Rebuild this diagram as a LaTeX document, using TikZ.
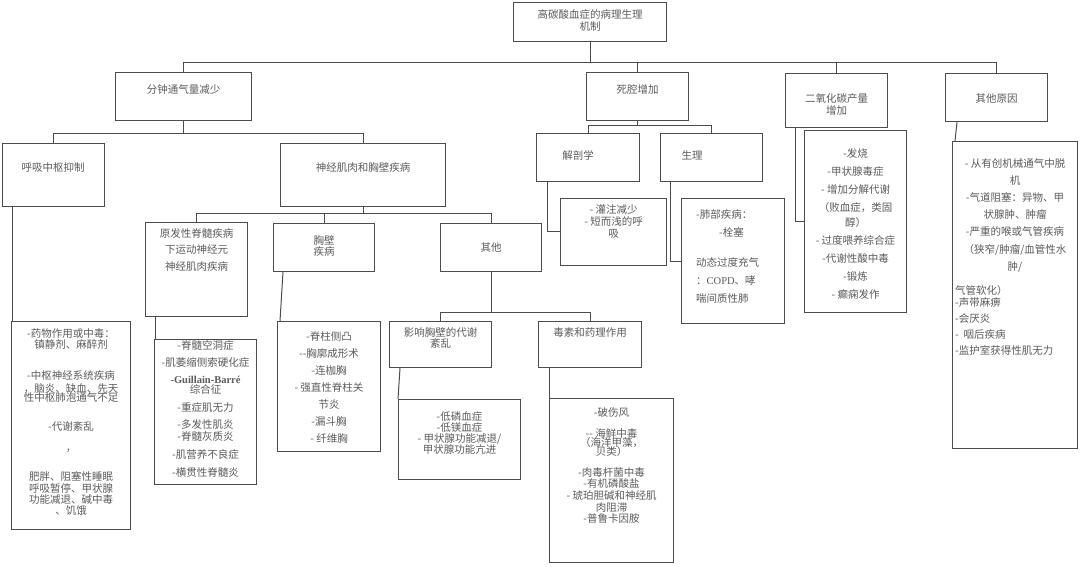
\documentclass[tikz,border=0pt]{standalone}
\usepackage{fontspec}
\setmainfont{Noto Sans CJK SC}
\newfontfamily\latinfont{Liberation Serif}
\usetikzlibrary{positioning,calc}
\definecolor{linegray}{gray}{0.3}
\definecolor{textgray}{gray}{0.36}

\begin{document}
\begin{tikzpicture}[
    x=1pt, y=-1pt,
    every node/.style={font={\fontsize{10.5}{11}\selectfont\lineskiplimit=-20pt}},
    lst/.style={font={\fontsize{10.5}{#1}\selectfont\lineskiplimit=-20pt}},
    box/.style={draw=linegray, line width=1pt, anchor=north west,
                inner sep=0pt},
    txt/.style={text=textgray, align=center, inner sep=0pt, anchor=north},
    link/.style={draw=linegray, line width=1pt},
]
\useasboundingbox[fill=white] (0,0) rectangle (1080,567);

% --- Root ---
\node[box, minimum width=153pt, minimum height=39pt] (root) at (513,2) {};
\node[txt, lst=12] (roott) at ([yshift=-7pt]root.north)
    {高碳酸血症的病理生理\\机制};

% --- Level 1 ---
\node[box, minimum width=136pt, minimum height=48pt] (fen) at (115,72) {};
\node[txt] (fent) at ([yshift=-12pt]fen.north) {分钟通气量减少};

\node[box, minimum width=102pt, minimum height=48pt] (sq) at (586,72) {};
\node[txt] (sqt) at ([yshift=-12pt]sq.north) {死腔增加};

\node[box, minimum width=102pt, minimum height=54pt] (co) at (785,73) {};
\node[txt, lst=12] (cot) at ([yshift=-20pt]co.north) {二氧化碳产量\\增加};

\node[box, minimum width=102pt, minimum height=48pt] (qt) at (945,73) {};
\node[txt] (qtt) at ([yshift=-20pt]qt.north) {其他原因};

% --- Level 2 ---
\node[box, minimum width=102pt, minimum height=63pt] (hx) at (1.5,143) {};
\node[txt] (hxt) at ([yshift=-19pt]hx.north) {呼吸中枢抑制};

\node[box, minimum width=165pt, minimum height=63pt] (sj) at (280,143) {};
\node[txt] (sjt) at ([yshift=-19pt]sj.north) {神经肌肉和胸壁疾病};

\node[box, minimum width=103pt, minimum height=48pt] (jp) at (536,133) {};
\node[txt] (jpt) at ([xshift=42pt,yshift=-17pt]jp.north west) {解剖学};

\node[box, minimum width=102pt, minimum height=48pt] (sl) at (660,133) {};
\node[txt] (slt) at ([xshift=32pt,yshift=-17pt]sl.north west) {生理};

% --- Level 3 ---
\node[box, minimum width=102pt, minimum height=94pt] (yf) at (145,222) {};
\node[txt, lst=16.5] (yft) at ([yshift=-6pt]yf.north)
    {原发性脊髓疾病\\下运动神经元\\神经肌肉疾病};

\node[box, minimum width=101pt, minimum height=48pt] (xb) at (273,223) {};
\node[txt] (xbt) at ([yshift=-12pt]xb.north) {胸壁\\疾病};

\node[box, minimum width=101pt, minimum height=48pt] (qo) at (440,223) {};
\node[txt] (qot) at ([yshift=-19pt]qo.north) {其他};

% --- Level 4 ---
\node[box, minimum width=102pt, minimum height=46pt] (yx) at (389,321) {};
\node[txt] (yxt) at ([yshift=-6pt]yx.north) {影响胸壁的代谢\\紊乱};

\node[box, minimum width=103pt, minimum height=46pt] (ds) at (538,321) {};
\node[txt] (dst) at ([yshift=-6pt]ds.north) {毒素和药理作用};

% --- Lists ---
\node[box, minimum width=119pt, minimum height=208pt] (hxl) at (11,321) {};
\node[txt] (hxlt) at ([yshift=-7pt]hxl.north)
    {-药物作用或中毒：\\镇静剂、麻醉剂\\[20pt]-中枢神经系统疾病\\[2pt]，脑炎、缺血、先天\\[-2pt]性中枢肺泡通气不足\\[18pt]-代谢紊乱\\[10pt]，\\[18pt]肥胖、阻塞性睡眠\\[1pt]呼吸暂停、甲状腺\\功能减退、碱中毒\\、饥饿};

\node[box, minimum width=102pt, minimum height=145pt] (yfl) at (154,339) {};
\node[txt] (yflt) at ([yshift=-1pt]yfl.north)
    {-脊髓空洞症\\[6pt]-肌萎缩侧索硬化症\\[6pt]{\latinfont\bfseries -Guillain-Barré}\\[-1pt]综合征\\[7pt]-重症肌无力\\[6pt]-多发性肌炎\\[1pt]-脊髓灰质炎\\[7pt]-肌营养不良症\\[7pt]-横贯性脊髓炎};

\node[box, minimum width=103pt, minimum height=130pt] (xbl) at (277,321) {};
\node[txt, lst=17] (xblt) at ([yshift=-10pt]xbl.north)
    {-脊柱侧凸\\-{}-胸廓成形术\\-连枷胸\\- 强直性脊柱关\\节炎\\-漏斗胸\\- 纤维胸};

\node[box, minimum width=122pt, minimum height=80pt] (yxl) at (398,399) {};
\node[txt] (yxlt) at ([yshift=-12pt]yxl.north)
    {-低磷血症\\-低镁血症\\- 甲状腺功能减退/\\甲状腺功能亢进};

\node[box, minimum width=124pt, minimum height=164pt] (dsl) at (549,398) {};
\node[txt] (dslt) at ([yshift=-9pt]dsl.north)
    {-破伤风\\[10pt]-{}- 海鲜中毒\\[-2pt]（海洋甲藻，\\[-2pt]贝类）\\[10pt]-肉毒杆菌中毒\\-有机磷酸盐\\[1pt]- 琥珀胆碱和神经肌\\[1pt]肉阻滞\\-普鲁卡因胺};

\node[box, minimum width=106pt, minimum height=66pt] (jpl) at (560,198.5) {};
\node[txt, lst=12] (jplt) at ([yshift=-6pt]jpl.north)
    {- 灌注减少\\- 短而浅的呼\\吸};

\node[box, minimum width=103pt, minimum height=124.5pt] (sll) at (681,198.5) {};
\node[txt, lst=18, align=left, anchor=north west] (sllt)
    at ([xshift=15pt,yshift=-11pt]sll.north west)
    {-肺部疾病：\\\hspace*{23pt}-栓塞\\[12pt]动态过度充气\\：{\latinfont COPD}、哮\\喘间质性肺};

\node[box, minimum width=102pt, minimum height=182pt] (col) at (804,130) {};
\node[txt, lst=18] (colt) at ([yshift=-18pt]col.north)
    {-发烧\\-甲状腺毒症\\- 增加分解代谢\\（败血症，类固\\[-3pt]醇）\\- 过度喂养综合症\\-代谢性酸中毒\\-锻炼\\- 癫痫发作};

\node[box, minimum width=125pt, minimum height=307pt] (qtl) at (952,141) {};
\node[txt, lst=17.2] (qtlt) at ([yshift=-17pt]qtl.north)
    {- 从有创机械通气中脱\\机\\-气道阻塞：异物、甲\\状腺肿、肿瘤\\-严重的喉或气管疾病\\（狭窄/肿瘤/血管性水\\肿/};
\node[txt, lst=16, align=left, anchor=north west] (qtlb)
    at ([xshift=3pt,yshift=-144pt]qtl.north west)
    {气管软化）\\[-4pt]-声带麻痹\\-会厌炎\\-\ \ 咽后疾病\\-监护室获得性肌无力};

% --- Tree connectors ---
\foreach \c in {fen,sq,co,qt}
    \draw[link] (root.south) -- ++(0,21) -| (\c.north);
\foreach \c in {hx,sj}
    \draw[link] (fen.south) -- ++(0,13) -| (\c.north);
\foreach \c in {yf,xb,qo}
    \draw[link] (sj.south) -- ++(0,7) -| (\c.north);
\foreach \c in {jp,sl}
    \draw[link] (sq.south) -- ++(0,5) -| (\c.north);
\foreach \c in {yx,ds}
    \draw[link] (qo.south) -- ++(0,40) -| (\c.north);

% --- Leaf connectors ---
\draw[link] ([xshift=10.5pt]hx.south west) -- ([xshift=1pt]hxl.north west);
\draw[link] ([xshift=10pt]yf.south west) -- ([xshift=1pt]yfl.north west);
\draw[link] ([xshift=10pt]xb.south west) -- ([xshift=3pt]xbl.north west);
\draw[link] ([xshift=11pt]yx.south west) -- (yxl.north west);
\draw[link] ([xshift=11pt]ds.south west) -- (dsl.north west);
\draw[link] ([xshift=11.5pt]jp.south west) |- (jpl.west);
\draw[link] ([xshift=10.5pt]sl.south west) |- (sll.west);
\draw[link] ([xshift=10.5pt]co.south west) |- (col.west);
\draw[link] ([xshift=12pt]qt.south west) -- ([xshift=3pt]qtl.north west);

\end{tikzpicture}
\end{document}
